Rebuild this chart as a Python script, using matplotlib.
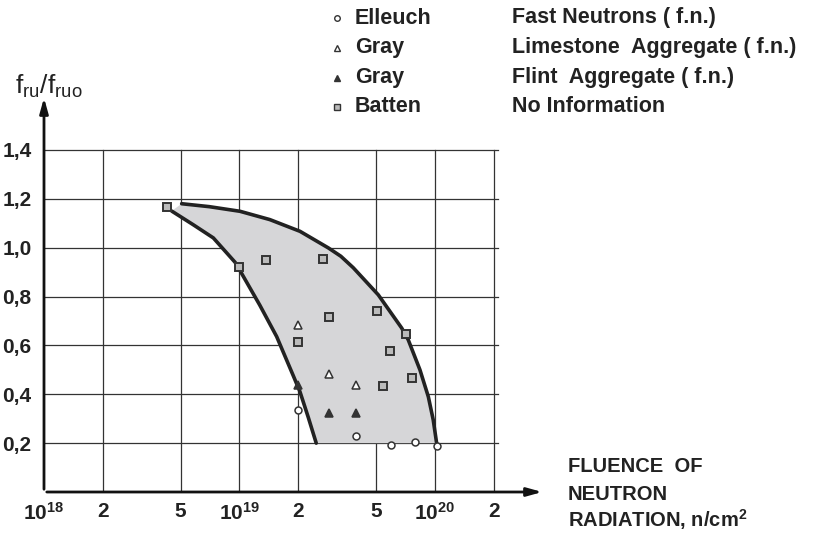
import numpy as np
import matplotlib.pyplot as plt
from matplotlib.lines import Line2D

plt.rcParams['font.family'] = ['Liberation Sans Narrow', 'Liberation Sans', 'DejaVu Sans']
plt.rcParams['mathtext.fontset'] = 'custom'
plt.rcParams['mathtext.rm'] = 'Liberation Sans:bold'
plt.rcParams['mathtext.it'] = 'Liberation Sans:bold'

# data
elleuch_x = [2.0e19, 3.96e19, 5.93e19, 7.87e19, 1.02e20]
elleuch_y = [0.335, 0.231, 0.193, 0.204, 0.19]

gray_lime_x = [2.0e19, 2.86e19, 3.96e19]
gray_lime_y = [0.684, 0.484, 0.436]

gray_flint_x = [2.0e19, 2.86e19, 3.96e19]
gray_flint_y = [0.439, 0.325, 0.325]

batten_x = [4.25e18, 1.0e19, 1.36e19, 2.66e19, 2.86e19, 5.07e19, 7.07e19,
            1.99e19, 5.89e19, 7.66e19, 5.44e19]
batten_y = [1.165, 0.923, 0.948, 0.954, 0.716, 0.739, 0.648,
            0.616, 0.579, 0.466, 0.432]

upper_x = [5.06e18, 7e18, 1.006e19, 1.43e19, 2.04e19, 2.85e19, 3.3e19,
           3.82e19, 5.13e19, 6.76e19, 7.3e19, 8.38e19, 9.25e19, 9.8e19,
           1.02e20]
upper_y = [1.18, 1.168, 1.149, 1.115, 1.067, 0.999, 0.965,
           0.918, 0.807, 0.671, 0.623, 0.5, 0.39, 0.295,
           0.2]
lower_x = [4.5e18, 5.8e18, 7.35e18, 9.5e18, 1.0e19, 1.27e19, 1.55e19,
           1.88e19, 2.04e19, 2.25e19, 2.47e19]
lower_y = [1.15, 1.094, 1.04, 0.94, 0.91, 0.765, 0.636,
           0.478, 0.41, 0.305, 0.2]

y_ticks = [0.2, 0.4, 0.6, 0.8, 1.0, 1.2, 1.4]
y_labels = ['0,2', '0,4', '0,6', '0,8', '1,0', '1,2', '1,4']
x_ticks = [1e18, 2e18, 5e18, 1e19, 2e19, 5e19, 1e20, 2e20]
x_labels = [r'$\mathregular{10^{18}}$', '2', '5', r'$\mathregular{10^{19}}$',
            '2', '5', r'$\mathregular{10^{20}}$', '2']

legend_names = ['Elleuch', 'Gray', 'Gray', 'Batten']
legend_notes = ['Fast Neutrons ( f.n.)', 'Limestone  Aggregate ( f.n.)',
                'Flint  Aggregate ( f.n.)', 'No Information']

W, H = 815, 533
fig = plt.figure(figsize=(W / 100, H / 100), dpi=100)
ax = fig.add_axes([44 / W, (H - 492) / H, (545 - 44) / W, (492 - 95) / H])
ax.set_xscale('log')
ax.set_xlim(1e18, 10 ** 20.563)
ax.set_ylim(0, 1.625)
for s in ax.spines.values():
    s.set_visible(False)

# grid
gc = '#333333'
for yv in y_ticks:
    ax.plot([1e18, 2.1e20], [yv, yv], color=gc, lw=0.9, zorder=1)
for xv in x_ticks[1:]:
    ax.plot([xv, xv], [0, 1.4], color=gc, lw=0.9, zorder=1)

# axes with arrows
ax.annotate('', xy=(10 ** 20.563, 0), xytext=(1e18, 0),
            arrowprops=dict(arrowstyle='-|>,head_length=0.9,head_width=0.25',
                            color='#111111', lw=2), zorder=5)
ax.annotate('', xy=(1e18, 1.625), xytext=(1e18, 0),
            arrowprops=dict(arrowstyle='-|>,head_length=0.9,head_width=0.25',
                            color='#111111', lw=2), zorder=5)

# shaded band
poly_x = upper_x + lower_x[::-1]
poly_y = upper_y + lower_y[::-1]
ax.fill(poly_x, poly_y, color='#d6d6d8', zorder=2, lw=0)
ax.plot(upper_x, upper_y, color='#222222', lw=2.6, zorder=3,
        solid_capstyle='round', solid_joinstyle='round')
ax.plot(lower_x, lower_y, color='#222222', lw=2.6, zorder=3,
        solid_capstyle='round', solid_joinstyle='round')

mk = dict(linestyle='none', zorder=6)
ax.plot(elleuch_x, elleuch_y, marker='o', ms=5, mfc='white', mec='#333333',
        mew=1.1, **mk)
ax.plot(gray_lime_x, gray_lime_y, marker='^', ms=5.5, mfc='white',
        mec='#333333', mew=1.1, **mk)
ax.plot(gray_flint_x, gray_flint_y, marker='^', ms=5.5, mfc='#333333',
        mec='#333333', mew=1.1, **mk)
ax.plot(batten_x, batten_y, marker='s', ms=5.5, mfc='#bbbbbb',
        mec='#333333', mew=1.4, **mk)

ax.set_yticks(y_ticks)
ax.set_yticklabels(y_labels)
ax.set_xticks(x_ticks)
ax.set_xticklabels(x_labels)
ax.minorticks_off()
ax.tick_params(length=0, labelsize=15, colors='#222222')
ax.tick_params(axis='y', pad=9)
ax.tick_params(axis='x', pad=7)
for t in ax.get_xticklabels() + ax.get_yticklabels():
    t.set_fontweight('bold')

# axis titles
fig.text(15 / W, 1 - 86 / H, r'$\mathregular{f_{ru}/f_{ruo}}$', fontsize=19,
         color='#222222', va='center', ha='left')
fig.text(568 / W, 1 - 467 / H, 'FLUENCE  OF', fontsize=14.5, weight='bold',
         color='#222222', va='center')
fig.text(568 / W, 1 - 495 / H, 'NEUTRON', fontsize=14.5, weight='bold',
         color='#222222', va='center')
fig.text(568 / W, 1 - 520 / H, r'RADIATION, n/cm$\mathregular{^2}$',
         fontsize=14.5, weight='bold', color='#222222', va='center')

# legend block
leg_markers = [dict(marker='o', mfc='white', ms=4),
               dict(marker='^', mfc='white', ms=4),
               dict(marker='^', mfc='#333333', ms=4),
               dict(marker='s', mfc='#bbbbbb', ms=4)]
rows = [18, 48, 78, 107]
for name, note, m, r in zip(legend_names, legend_notes, leg_markers, rows):
    fy = 1 - r / H
    fig.add_artist(Line2D([337 / W], [fy], transform=fig.transFigure,
                          mec='#333333', mew=1.0, linestyle='none', **m))
    fig.text(355 / W, fy, name, fontsize=15.5, weight='bold',
             color='#222222', va='center')
    fig.text(512 / W, fy, note, fontsize=15.5, weight='bold',
             color='#222222', va='center')

fig.savefig('out.png', dpi=100)
